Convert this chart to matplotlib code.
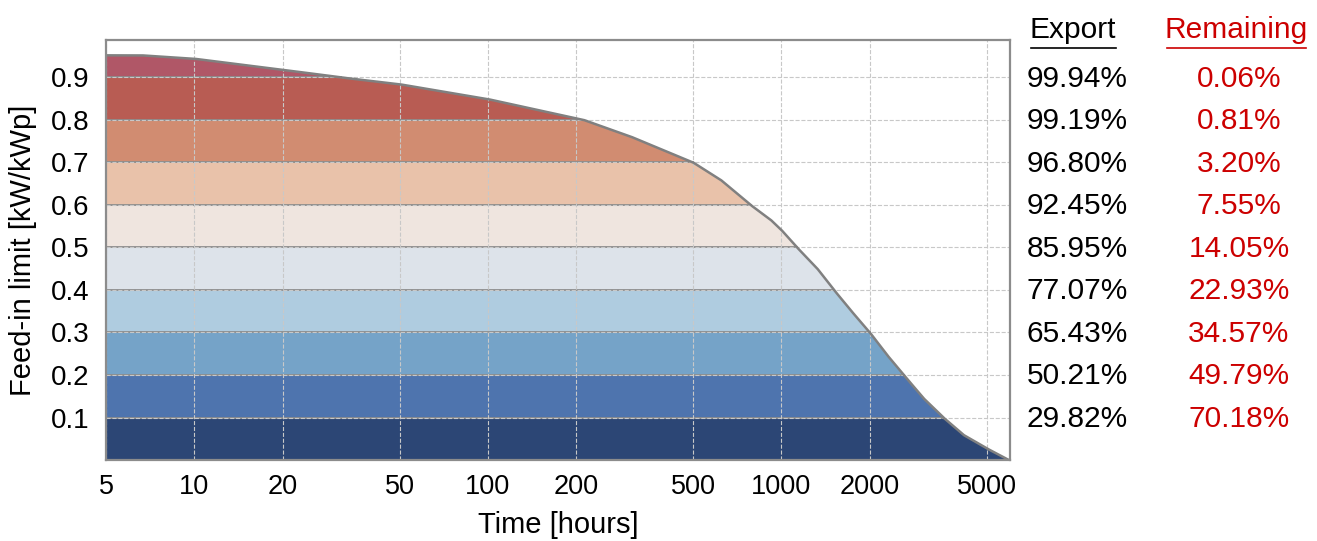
import numpy as np
import matplotlib.pyplot as plt
from matplotlib.ticker import FixedLocator, FixedFormatter, NullFormatter

plt.rcParams['font.family'] = ['Liberation Sans', 'DejaVu Sans']

# duration curve
hours = [5, 6.6, 10, 20, 31.6, 50, 100, 212, 306, 500, 621, 785, 919, 1000, 1130,
         1322, 1510, 1717, 2000, 2290, 2610, 3050, 3560, 4170, 5000, 5950]
limit = [0.952, 0.952, 0.944, 0.918, 0.9, 0.884, 0.849, 0.8, 0.761, 0.7, 0.659, 0.6, 0.565, 0.541, 0.5,
         0.451, 0.4, 0.353, 0.3, 0.247, 0.2, 0.145, 0.1, 0.059, 0.0275, 0.0]

levels = [0.1, 0.2, 0.3, 0.4, 0.5, 0.6, 0.7, 0.8, 0.9]
export = ['99.94%', '99.19%', '96.80%', '92.45%', '85.95%', '77.07%', '65.43%', '50.21%', '29.82%']
remaining = ['0.06%', '0.81%', '3.20%', '7.55%', '14.05%', '22.93%', '34.57%', '49.79%', '70.18%']
band_colors = ['#2c4675', '#4e74ae', '#75a3c8', '#afcce0', '#dde3ea',
               '#efe5df', '#e9c2aa', '#d18c71', '#b85c53', '#b05767']
xticks = [5, 10, 20, 50, 100, 200, 500, 1000, 2000, 5000]

fig = plt.figure(figsize=(13.17, 5.41), dpi=100)
ax = fig.add_axes([0.0805, 0.1497, 0.6865, 0.7763])

# sample the curve densely in log space so the bands follow it
lx = np.linspace(np.log10(hours[0]), np.log10(hours[-1]), 3000)
x = 10 ** lx
y = np.interp(lx, np.log10(hours), limit)

bounds = [0.0] + levels + [1.0]
for k in range(len(bounds) - 1):
    lo, hi = bounds[k], bounds[k + 1]
    top = np.clip(y, lo, hi)
    ax.fill_between(x, lo, top, where=y > lo, color=band_colors[k], lw=0, zorder=1)
    if k > 0:
        xe = 10 ** np.interp(-lo, -np.array(limit), np.log10(hours))
        ax.plot([hours[0], xe], [lo, lo], color='#8c8c8c', lw=1.3, zorder=2)

ax.plot(x, y, color='#808080', lw=1.8, zorder=3)

ax.set_xscale('log')
ax.set_xlim(5, 6010)
ax.set_ylim(0, 0.988)

ax.xaxis.set_major_locator(FixedLocator(xticks))
ax.xaxis.set_major_formatter(FixedFormatter([str(t) for t in xticks]))
ax.xaxis.set_minor_locator(FixedLocator([10, 100, 1000]))
ax.xaxis.set_minor_formatter(NullFormatter())
ax.tick_params(axis='x', which='major', length=0, pad=10, labelsize=19.5)
ax.tick_params(axis='x', which='minor', length=6, width=1.2, color='black')
ax.set_yticks(levels)
ax.set_yticklabels([f'{v:.1f}' for v in levels])
ax.tick_params(axis='y', length=0, pad=12, labelsize=20)

ax.grid(True, which='major', color='#c8c8c8', ls='--', lw=0.8, zorder=4)
ax.set_axisbelow(False)
for s in ax.spines.values():
    s.set_color('#8c8c8c')
    s.set_linewidth(1.6)
    s.set_zorder(5)

ax.set_xlabel('Time [hours]', fontsize=21, labelpad=8)
ax.set_ylabel('Feed-in limit [kW/kWp]', fontsize=21, labelpad=10)

# right-hand table
xa = 1077 / 1317
xb = 1239 / 1317
for lv, e, r in zip(levels[::-1], export, remaining):
    yy = ax.transData.transform((10, lv))[1] / fig.bbox.height - 1.5 / 541
    fig.text(xa, yy, e, ha='center', va='center', fontsize=21.5, color='black')
    fig.text(xb, yy, r, ha='center', va='center', fontsize=21.5, color='#cc0000')

fig.text(1073 / 1317, 1 - 30 / 541, 'Export', ha='center', va='center', fontsize=21.5, color='black')
fig.text(1236 / 1317, 1 - 30 / 541, 'Remaining', ha='center', va='center', fontsize=21.5, color='#cc0000')
fig.add_artist(plt.Line2D([1031 / 1317, 1116 / 1317], [1 - 48 / 541] * 2, color='black', lw=1.2))
fig.add_artist(plt.Line2D([1167 / 1317, 1306 / 1317], [1 - 48 / 541] * 2, color='#cc0000', lw=1.2))

fig.savefig('out.png', dpi=100)
